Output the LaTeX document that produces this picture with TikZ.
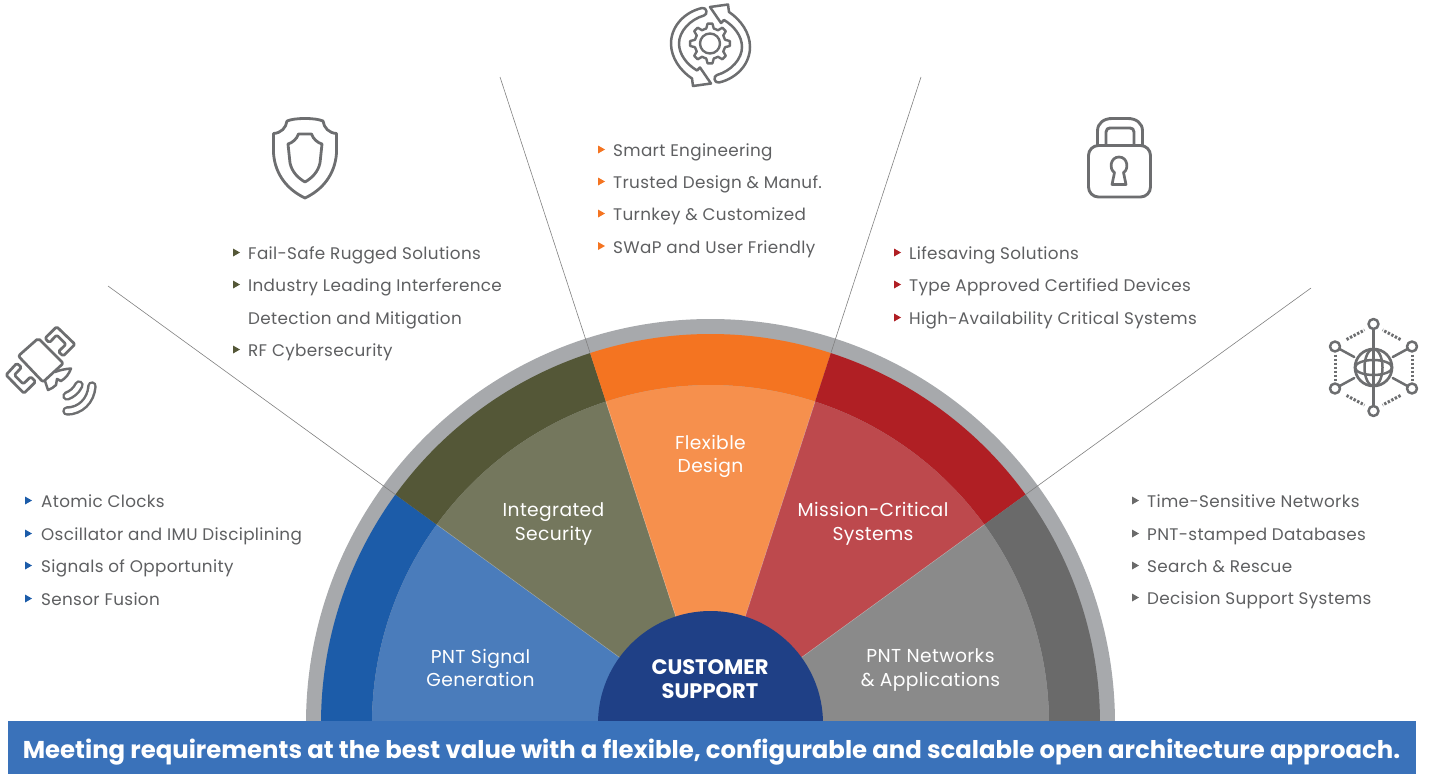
\documentclass[tikz,border=0pt]{standalone}
\usepackage{fontspec}
\setmainfont{Poppins}
\newfontfamily\spaced[LetterSpace=2]{Poppins}
\definecolor{txt}{HTML}{5E5F61}
\definecolor{ico}{HTML}{6D6E70}
\definecolor{ringg}{HTML}{A7A9AC}
\definecolor{cblue}{HTML}{1C5CA9}
\definecolor{colive}{HTML}{545737}
\definecolor{corange}{HTML}{F47421}
\definecolor{cred}{HTML}{B01F24}
\definecolor{cgray}{HTML}{6A6A6A}
\definecolor{iblue}{HTML}{4A7CBB}
\definecolor{iolive}{HTML}{74775D}
\definecolor{iorange}{HTML}{F6904D}
\definecolor{ired}{HTML}{BD494D}
\definecolor{igray}{HTML}{8A8A8A}
\definecolor{hub}{HTML}{1F4086}
\definecolor{bann}{HTML}{3A72BA}
\newcommand\sect[5]{\fill[#5] (-#1:#3pt) arc[start angle=-#1,end angle=-#2,radius=#3pt] -- (-#2:#4pt) arc[start angle=-#2,end angle=-#1,radius=#4pt] -- cycle;}
\newcommand\itm[6]{\node[item,text=txt] (#1) at (#3,#4+6.5) {#6};
 \fill[#5] (#2,#4-4.5) -- (#2+7,#4-0.5) -- (#2,#4+3.5) -- cycle;}
\tikzset{
 item/.style={anchor=base west,inner sep=0pt,font=\fontsize{16.8}{18}\selectfont\spaced},
 seclabel/.style={align=center,inner sep=0pt,text=white,font=\fontsize{18.7}{23.5}\selectfont\spaced},
 spoke/.style={draw=black!50,line width=0.6pt},
 icon/.style={draw=ico,line width=2.3pt,line join=round,line cap=round},
 dots/.style={draw=ico,line width=3pt,dash pattern=on 2.4pt off 1.6pt},
}
\begin{document}
\begin{tikzpicture}[x=1pt,y=1pt,yscale=-1]
\useasboundingbox (0,0) rectangle (1432,774);
\coordinate (c) at (710.5,723.5);
\begin{scope}[shift={(c)}]
\fill[ringg] (-180:404.5pt) arc[start angle=-180,end angle=0,radius=404.5pt] -- cycle;
\sect{180}{144}{389.5}{338.5}{cblue}
\sect{144}{108}{389.5}{338.5}{colive}
\sect{108}{72}{389.5}{338.5}{corange}
\sect{72}{36}{389.5}{338.5}{cred}
\sect{36}{0}{389.5}{338.5}{cgray}
\sect{180}{144}{338.5}{100}{iblue}
\sect{144}{108}{338.5}{100}{iolive}
\sect{108}{72}{338.5}{100}{iorange}
\sect{72}{36}{338.5}{100}{ired}
\sect{36}{0}{338.5}{100}{igray}
\foreach \a in {144,108,72,36}{\draw[white,opacity=.3,line width=.5pt] (-\a:112pt) -- (-\a:338.5pt);}
\fill[hub] (-180:112.5pt) arc[start angle=-180,end angle=0,radius=112.5pt] -- cycle;
\coordinate (e1) at (-144:390pt);
\coordinate (e2) at (-108:390pt);
\coordinate (e3) at (-72:390pt);
\coordinate (e4) at (-36:390pt);
\end{scope}
\coordinate (f1) at (108,286);
\coordinate (f2) at (500,77);
\coordinate (f3) at (921,77);
\coordinate (f4) at (1311,288);
\draw[spoke] (f1) -- (e1);
\draw[spoke] (f2) -- (e2);
\draw[spoke] (f3) -- (e3);
\draw[spoke] (f4) -- (e4);
% banner
\fill[bann] (8,721) rectangle (1416,774);
\node[anchor=base,inner sep=0pt,text=white,font=\fontsize{24.36}{26}\selectfont\bfseries] (banner) at (711.5,758.5) {Meeting requirements at the best value with a flexible, configurable and scalable open architecture approach.};
% labels
\node[seclabel] (l1) at (480.5,668) {PNT Signal\\Generation};
\node[seclabel] (l2) at (553.5,524) {Integrated\\Security};
\node[seclabel] (l3) at (710.5,456.5) {Flexible\\Design};
\node[seclabel] (l4) at (873,524) {Mission-Critical\\Systems};
\node[seclabel] (l5) at (930.5,670) {PNT Networks\\\& Applications};
\node[align=center,inner sep=0pt,text=white,font=\fontsize{21}{24}\selectfont\bfseries] (hubl) at (710,679.5) {CUSTOMER\\SUPPORT};
% lists
\itm{a1}{25}{41}{501}{cblue}{Atomic Clocks}
\itm{a2}{25}{41}{534}{cblue}{Oscillator and IMU Disciplining}
\itm{a3}{25}{41}{566}{cblue}{Signals of Opportunity}
\itm{a4}{25}{41}{599}{cblue}{Sensor Fusion}
\itm{b1}{233}{248}{253}{colive}{Fail-Safe Rugged Solutions}
\itm{b2}{233}{248}{285}{colive}{Industry Leading Interference}
\node[item,text=txt] (b2b) at (248,324.5) {Detection and Mitigation};
\itm{b3}{233}{248}{350}{colive}{RF Cybersecurity}
\itm{c1}{598}{613}{150}{corange}{Smart Engineering}
\itm{c2}{598}{613}{182}{corange}{Trusted Design \& Manuf.}
\itm{c3}{598}{613}{214}{corange}{Turnkey \& Customized}
\itm{c4}{598}{613}{246.5}{corange}{SWaP and User Friendly}
\itm{d1}{894}{909}{253}{cred}{Lifesaving Solutions}
\itm{d2}{894}{909}{285}{cred}{Type Approved Certified Devices}
\itm{d3}{894}{909}{318}{cred}{High-Availability Critical Systems}
\itm{g1}{1132}{1147}{501}{cgray}{Time-Sensitive Networks}
\itm{g2}{1132}{1147}{534}{cgray}{PNT-stamped Databases}
\itm{g3}{1132}{1147}{566}{cgray}{Search \& Rescue}
\itm{g4}{1132}{1147}{598}{cgray}{Decision Support Systems}
% shield
\draw[icon,line width=2.8pt] (305,118.5) .. controls (296,118.5) and (291,119.5) .. (287,121) .. controls (286,128) and (281,133) .. (273.5,133.5) -- (273.5,153) .. controls (275,175) and (288,190) .. (305,198) .. controls (322,190) and (335,175) .. (336.5,153) -- (336.5,133.5) .. controls (329,133) and (324,128) .. (323,121) .. controls (319,119.5) and (314,118.5) .. (305,118.5) -- cycle;
\draw[icon,line width=2.8pt] (298.5,134) -- (311.5,134) .. controls (313,139) and (318,143) .. (322,144) -- (320,163) .. controls (318,172) and (312,178) .. (305,182) .. controls (298,178) and (292,172) .. (290,163) -- (288,144) .. controls (292,143) and (297,139) .. (298.5,134) -- cycle;
% gear + arrows
\begin{scope}[shift={(710,43.5)}]
\draw[icon,line width=2.4pt] (0,0) circle[radius=10pt];
\draw[icon,line width=2.4pt] (-7:20) \foreach \a in {0,45,...,315} { -- (\a-7:20) -- (\a+7:20) -- (\a+14:15.5) -- (\a+31:15.5)} -- cycle;
\foreach \r/\dx/\dy in {0/0/0,180/1/3.5}{
\begin{scope}[shift={(\dx,\dy)},rotate=\r]
\draw[icon,line width=2.5pt] (-8,-35.5) .. controls (-27,-31) and (-39,-16) .. (-39,0) .. controls (-39,14) and (-30,27) .. (-18,35) -- (-17,42.5) -- (1,40) -- (-10,24) -- (-13,27) .. controls (-23,21) and (-31,11) .. (-31,0) .. controls (-31,-12) and (-20,-24) .. (-6,-28) .. controls (-2,-29) and (-3,-36.5) .. (-8,-35.5) -- cycle;
\end{scope}}
\end{scope}
% lock
\draw[icon,line width=2.9pt] (1097.5,145.5) -- (1097.5,131) .. controls (1097.5,123) and (1104,118.5) .. (1112,118.5) -- (1128,118.5) .. controls (1136,118.5) and (1142.5,123) .. (1142.5,131) -- (1142.5,145.5);
\draw[icon,line width=2.9pt] (1106,145.5) -- (1106,132) .. controls (1106,129) and (1108,128) .. (1110,128) -- (1130,128) .. controls (1132,128) and (1134,129) .. (1134,132) -- (1134,145.5);
\draw[icon,line width=2.9pt,rounded corners=10pt] (1088.5,145.5) rectangle (1150.5,197);
\draw[icon,line width=2.7pt] (1114.5,172.5) .. controls (1109,169.5) and (1110,157) .. (1119,157) .. controls (1128,157) and (1129,169.5) .. (1123.5,172.5) -- (1126,184.5) -- (1112,184.5) -- cycle;
% network
\begin{scope}[shift={(1373.5,367.5)}]
\draw[icon,line width=2.7pt] (0,0) circle[radius=18.5pt];
\draw[icon,line width=2.5pt] (0,0) ellipse[x radius=9pt,y radius=18.5pt];
\draw[icon,line width=2.5pt] (0,0) ellipse[x radius=18.5pt,y radius=7.5pt];
\draw[icon,line width=2.5pt] (0,-43.5) -- (0,43.5);
\foreach \x/\y in {0/-43.5,38.5/-21,38.5/21,0/43.5,-38.5/21,-38.5/-21}{
\draw[icon,line width=2.5pt] (\x*0.5,\y*0.5) -- (\x*0.88,\y*0.88);
\draw[icon,line width=2.5pt,fill=white] (\x,\y) circle[radius=5pt];}
\draw[dots] (-27,-28) -- (-9,-37.5);
\draw[dots] (27,-28) -- (9,-37.5);
\draw[dots] (-27,28) -- (-9,37.5);
\draw[dots] (27,28) -- (9,37.5);
\draw[dots] (-38.5,-13) -- (-38.5,13);
\draw[dots] (38.5,-13) -- (38.5,13);
\end{scope}
% satellite
\draw[icon,line width=2.7pt,rounded corners=2pt] (38.3,338.3) -- (63.3,363.3) -- (43,382) -- (18.3,356) -- cycle;
\draw[icon,line width=2.7pt,rounded corners=1.5pt] (45,338.3) -- (56.7,326.7) -- (75,344.3) -- (63.3,356) -- (58.3,351.7) -- (66,344.3) -- (56.7,335) -- (49.3,342.7) -- cycle;
\draw[icon,line width=2.7pt,rounded corners=1.5pt] (16.7,363.3) -- (6,375) -- (24,393.3) -- (35.7,381.7) -- (30.7,376.7) -- (23.3,384) -- (14.3,375) -- (21.7,367.3) -- cycle;
\draw[icon,line width=2.5pt] (55,372) .. controls (60,370) and (65,369) .. (71,368.5) .. controls (69,374) and (66,378) .. (61,381) -- (57,379) -- (56,385) .. controls (54,387) and (51,389) .. (48,390) -- (45,381);
\draw[ico,line width=9.5pt,line cap=round] (67,396) .. controls (72,394) and (76,391) .. (79,385);
\draw[white,line width=4.5pt,line cap=round] (67,396) .. controls (72,394) and (76,391) .. (79,385);
\draw[ico,line width=9.5pt,line cap=round] (67,411) .. controls (80,411) and (91,401) .. (92,386);
\draw[white,line width=4.5pt,line cap=round] (67,411) .. controls (80,411) and (91,401) .. (92,386);
\end{tikzpicture}
\end{document}
